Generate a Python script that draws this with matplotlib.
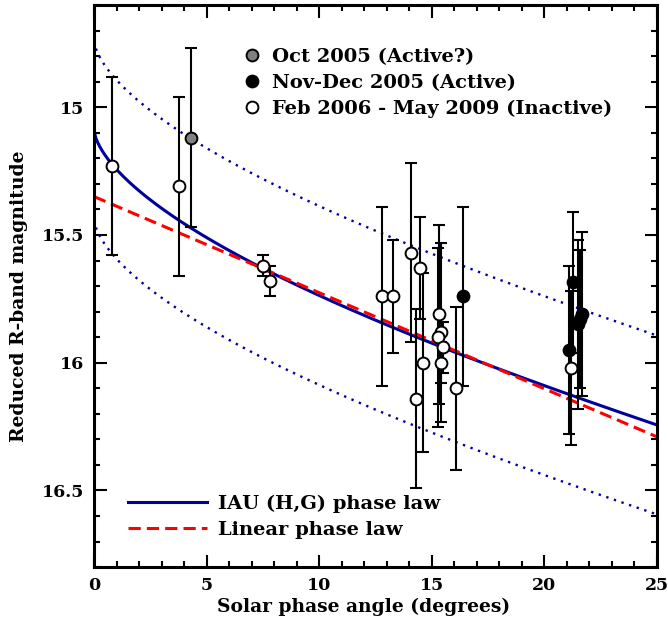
import numpy as np
import matplotlib
matplotlib.use('Agg')
import matplotlib.pyplot as plt
from matplotlib.ticker import FormatStrFormatter, MultipleLocator

# Oct 2005 (active?)
oct_alpha = [4.30]
oct_mag = [15.12]
oct_err = [0.35]

# Nov-Dec 2005 (active)
nov_alpha = [16.40, 21.29, 21.68, 21.47, 21.60, 21.10]
nov_mag = [15.74, 15.685, 15.81, 15.85, 15.83, 15.95]
nov_err = [0.35, 0.275, 0.32, 0.33, 0.27, 0.33]

# Feb 2006 - May 2009 (inactive)
ina_alpha = [0.80, 3.78, 7.48, 7.81, 12.79, 13.28, 14.08, 14.49, 14.30,
             14.59, 15.31, 15.41, 15.29, 15.50, 15.40, 16.08, 21.17]
ina_mag = [15.23, 15.31, 15.62, 15.68, 15.74, 15.74, 15.57, 15.63, 16.14,
           16.00, 15.81, 15.88, 15.90, 15.94, 16.00, 16.10, 16.02]
ina_err = [0.35, 0.35, 0.04, 0.06, 0.35, 0.22, 0.35, 0.20, 0.35,
           0.35, 0.35, 0.35, 0.35, 0.10, 0.08, 0.32, 0.30]

# fitted phase laws
H_fit = 15.09
G_fit = 0.15
H_spread = 0.35
lin_m0 = 15.35
lin_beta = 0.0376


def hg_mag(alpha_deg, H, G):
    """IAU (H,G) phase function"""
    t = np.tan(np.radians(alpha_deg) / 2.0)
    phi1 = np.exp(-3.33 * t ** 0.63)
    phi2 = np.exp(-1.87 * t ** 1.22)
    return H - 2.5 * np.log10((1 - G) * phi1 + G * phi2)


plt.rcParams['font.family'] = ['DejaVu Serif']
plt.rcParams['font.weight'] = 'bold'
plt.rcParams['axes.labelweight'] = 'bold'
plt.rcParams['font.size'] = 14

fig = plt.figure(figsize=(6.68, 6.26), dpi=100)
ax = fig.add_axes([0.141, 0.094, 0.8425, 0.898])

navy = '#00009c'
alpha_grid = np.linspace(0, 25, 500)
hg_line, = ax.plot(alpha_grid, hg_mag(alpha_grid, H_fit, G_fit), color=navy, lw=2.2, zorder=2)
ax.plot(alpha_grid, hg_mag(alpha_grid, H_fit - H_spread, G_fit), color=navy, lw=1.7,
        dashes=(1, 2.4), zorder=2)
ax.plot(alpha_grid, hg_mag(alpha_grid, H_fit + H_spread, G_fit), color=navy, lw=1.7,
        dashes=(1, 2.4), zorder=2)
lin_line, = ax.plot(alpha_grid, lin_m0 + lin_beta * alpha_grid, color='red', lw=2.2,
                    dashes=(4, 2), zorder=2)

eb_kw = dict(fmt='none', ecolor='black', elinewidth=1.5, capsize=4, capthick=1.5, zorder=3)
ax.errorbar(ina_alpha, ina_mag, yerr=ina_err, **eb_kw)
ax.errorbar(nov_alpha, nov_mag, yerr=nov_err, **eb_kw)
ax.errorbar(oct_alpha, oct_mag, yerr=oct_err, **eb_kw)

mk_kw = dict(ls='none', marker='o', ms=8.5, mec='black', mew=1.4, zorder=4)
p_ina, = ax.plot(ina_alpha, ina_mag, mfc='white', **mk_kw)
p_nov, = ax.plot(nov_alpha, nov_mag, mfc='black', **mk_kw)
p_oct, = ax.plot(oct_alpha, oct_mag, mfc='#808080', **mk_kw)

ax.set_xlim(0, 25)
ax.set_ylim(16.8, 14.6)
ax.xaxis.set_major_locator(MultipleLocator(5))
ax.xaxis.set_minor_locator(MultipleLocator(1))
ax.yaxis.set_major_locator(MultipleLocator(0.5))
ax.yaxis.set_minor_locator(MultipleLocator(0.1))
ax.yaxis.set_major_formatter(FormatStrFormatter('%g'))
ax.tick_params(which='both', direction='in', top=True, right=True, width=1.5,
               labelsize=12.5)
ax.tick_params(which='major', length=9, pad=7)
ax.tick_params(which='minor', length=4)
for s in ax.spines.values():
    s.set_linewidth(2.2)

ax.set_xlabel('Solar phase angle (degrees)', fontsize=13.5)
ax.set_ylabel('Reduced R-band magnitude', fontsize=13.5)
ax.xaxis.set_label_coords(0.479, -0.055)
ax.yaxis.set_label_coords(-0.117, 0.482)

# legends
leg1 = ax.legend([p_oct, p_nov, p_ina],
                 ['Oct 2005 (Active?)', 'Nov-Dec 2005 (Active)', 'Feb 2006 - May 2009 (Inactive)'],
                 loc='upper left', bbox_to_anchor=(0.264, 0.923), frameon=False,
                 borderpad=0, handlelength=1.0, handletextpad=0.48, labelspacing=0.4,
                 borderaxespad=0)
ax.add_artist(leg1)
ax.legend([hg_line, lin_line], ['IAU (H,G) phase law', 'Linear phase law'],
          loc='upper left', bbox_to_anchor=(0.06, 0.129), frameon=False,
          borderpad=0, handlelength=4.05, handletextpad=0.6, labelspacing=0.4,
          borderaxespad=0)

plt.savefig('out.png', dpi=100)
